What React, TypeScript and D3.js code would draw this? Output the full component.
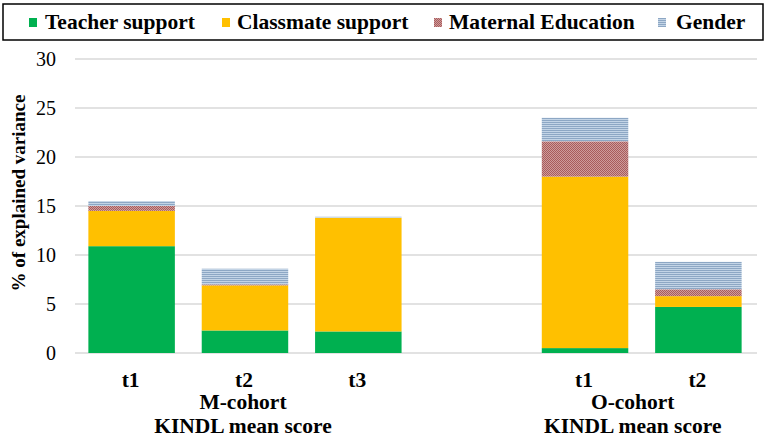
import * as d3 from "d3";

// chart data
const slots = ["M-t1", "M-t2", "M-t3", "gap", "O-t1", "O-t2"];
const barKeys = ["M-t1", "M-t2", "M-t3", "O-t1", "O-t2"];
const tickLabels = ["t1", "t2", "t3", "t1", "t2"];
const teacher = [10.9, 2.3, 2.2, 0.5, 4.7];
const classmate = [3.6, 4.6, 11.6, 17.5, 1.1];
const maternal = [0.5, 0.1, 0.0, 3.6, 0.7];
const gender = [0.5, 1.6, 0.1, 2.4, 2.8];
const seriesNames = ["Teacher support", "Classmate support", "Maternal Education", "Gender"];
const yTicks = [0, 5, 10, 15, 20, 25, 30];
const groups = [
  { lines: ["M-cohort", "KINDL mean score"], members: ["M-t1", "M-t2", "M-t3"], dx: -2 },
  { lines: ["O-cohort", "KINDL mean score"], members: ["O-t1", "O-t2"], dx: -9 },
];

const W = 766;
const H = 439;
const font = '"Liberation Serif", "Times New Roman", Tinos, "DejaVu Serif", serif';
const fills = ["#00B050", "#FFC000", "url(#pat-maternal)", "url(#pat-gender)"];

export default function App() {
  const x = d3.scaleBand<string>().domain(slots).range([75, 755]).paddingInner(0.237).paddingOuter(0.118);
  const y = d3.scaleLinear().domain([0, 30]).range([353, 59]);

  const rows = barKeys.map((k, i) => ({
    key: k,
    teacher: teacher[i],
    classmate: classmate[i],
    maternal: maternal[i],
    gender: gender[i],
  }));
  const stacked = d3.stack<any>().keys(["teacher", "classmate", "maternal", "gender"])(rows);

  const legendX = [29, 222, 434, 658];
  const legendTextX = [45, 237, 449, 676];

  return (
    <svg width={W} height={H} style={{ position: "absolute", left: 0, top: 0, background: "#fff", fontFamily: font }}>
      <defs>
        <pattern id="pat-maternal" width={2} height={2} patternUnits="userSpaceOnUse">
          <rect width={2} height={2} fill="#CE9C9C" />
          <rect width={1} height={1} fill="#A85C5C" />
          <rect x={1} y={1} width={1} height={1} fill="#A85C5C" />
        </pattern>
        <pattern id="pat-gender" width={2} height={2} patternUnits="userSpaceOnUse">
          <rect width={2} height={2} fill="#C3D4E6" />
          <rect width={2} height={1} fill="#8DA7C4" />
        </pattern>
      </defs>

      {/* legend */}
      <rect x={3} y={4} width={760} height={36} fill="#fff" stroke="#000" strokeWidth={1.5} />
      {seriesNames.map((name, i) => (
        <g key={name}>
          <rect x={legendX[i]} y={18} width={8} height={9} fill={fills[i]} />
          <text x={legendTextX[i]} y={28.5} fontSize={21.5} fontWeight="bold" fill="#000">
            {name}
          </text>
        </g>
      ))}

      {/* gridlines + y ticks */}
      {yTicks.map((t) => (
        <g key={t}>
          <line x1={75} x2={757} y1={y(t)} y2={y(t)} stroke="#D9D9D9" strokeWidth={1.5} />
          <text x={56} y={y(t)} dy="0.35em" textAnchor="end" fontSize={20} fill="#000">
            {t}
          </text>
        </g>
      ))}

      {/* bars */}
      {stacked.map((layer, si) => (
        <g key={layer.key} fill={fills[si]}>
          {layer.map((d, i) => {
            const h = y(d[0]) - y(d[1]);
            if (h <= 0) return null;
            return <rect key={i} x={x(barKeys[i])} y={y(d[1])} width={x.bandwidth()} height={h} />;
          })}
        </g>
      ))}

      {/* category labels */}
      {barKeys.map((k, i) => (
        <text key={k} x={(x(k) ?? 0) + x.bandwidth() / 2 - 1} y={387} textAnchor="middle" fontSize={21.5} fontWeight="bold">
          {tickLabels[i]}
        </text>
      ))}

      {/* group labels */}
      {groups.map((g) => {
        const cx = (d3.mean(g.members, (m) => (x(m) ?? 0) + x.bandwidth() / 2) ?? 0) + g.dx;
        return (
          <text key={g.lines[0]} x={cx} textAnchor="middle" fontSize={21.5} fontWeight="bold">
            <tspan x={cx} y={409}>{g.lines[0]}</tspan>
            <tspan x={cx} y={433}>{g.lines[1]}</tspan>
          </text>
        );
      })}

      {/* y axis title */}
      <text transform={`translate(25,193) rotate(-90)`} textAnchor="middle" fontSize={19} fontWeight="bold">
        % of explained variance
      </text>
    </svg>
  );
}
